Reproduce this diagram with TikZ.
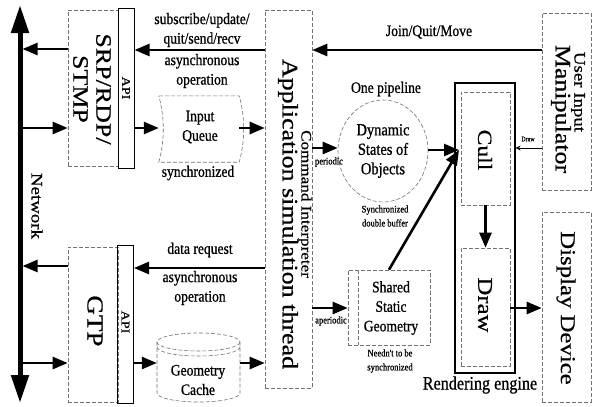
\documentclass[tikz,border=0pt]{standalone}
\usepackage{fontspec}
\setmainfont{Liberation Serif}
\newfontfamily\hf[FakeStretch=0.85,FakeBold=0.8]{Liberation Serif}
\newfontfamily\vf[FakeStretch=1.18,FakeBold=0.6]{Liberation Serif}
\usetikzlibrary{arrows.meta,shapes.geometric}
\tikzset{
  dline/.style={draw=black!55, line width=0.6pt, dash pattern=on 4pt off 2pt},
  dbox/.style={dline, rectangle, inner sep=0pt},
  sbox/.style={draw=black, line width=1pt, rectangle, inner sep=0pt},
  arr/.style={line width=2.6pt, -{Triangle[length=15pt,width=12pt]}},
  netarr/.style={line width=5pt, {Triangle[length=28pt,width=17pt]}-{Triangle[length=28pt,width=17pt]}},
  thinarr/.style={line width=0.6pt, -{Stealth[length=5pt,width=5pt]}},
  txt/.style={inner sep=0pt, align=center, font=\hf\fontsize{16}{19.5}\selectfont},
  small/.style={inner sep=0pt, align=center, font=\hf\fontsize{10}{14}\selectfont},
  vt/.style={rotate=-90, inner sep=0pt, align=center}
}
\begin{document}
\begin{tikzpicture}[x=1pt,y=-1pt]
\useasboundingbox (0,0) rectangle (592,407);

% Network
\coordinate (ntop) at (20,5);
\coordinate (nbot) at (20,403);
\draw[netarr] (ntop) -- (nbot);
\node[vt, font=\vf\fontsize{16}{18}\selectfont] (nett) at (37,206) {Network};

% SRP/RDP/STMP
\node[dbox, minimum width=50pt, minimum height=156pt] (srp) at (93,88) {};
\node[sbox, minimum width=16pt, minimum height=160pt] (api1) at (126,88) {};
\node[vt, font=\vf\fontsize{22}{23}\selectfont] (srpt) at (92,89) {SRP/RDP/\\STMP};
\node[vt, font=\vf\fontsize{12}{14}\selectfont] (api1t) at (126,88) {API};

% GTP
\node[dbox, minimum width=50pt, minimum height=155pt] (gtp) at (93,324.5) {};
\node[sbox, minimum width=16pt, minimum height=158pt] (api2) at (125.5,324.5) {};
\node[vt, font=\vf\fontsize{23}{24}\selectfont] (gtpt) at (95,321) {GTP};
\node[vt, font=\vf\fontsize{12}{14}\selectfont] (api2t) at (125.5,322) {API};

% Application simulation thread
\node[dbox, minimum width=47pt, minimum height=378pt] (app) at (288.5,199) {};
\node[vt, font=\vf\fontsize{22}{24}\selectfont] (appt) at (288,214) {Application simulation thread};
\node[vt, font=\vf\fontsize{14.5}{16}\selectfont] (cmd) at (305,204) {Command Interpreter};

% Input queue
\node[inner sep=0pt, minimum width=80pt, minimum height=66pt] (iq) at (199,129) {};
\draw[dline] (iq.north west) -- (iq.north east)
  .. controls +(6,22) and +(6,-22) .. (iq.south east) -- (iq.south west)
  .. controls +(6,-22) and +(6,22) .. (iq.north west);
\node[txt] (iqt) at (200,127) {Input\\Queue};
\node[txt] (sync) at (198,173) {synchronized};

% Geometry cache
\node[inner sep=0pt, minimum width=83pt, minimum height=69pt] (cache) at (198.5,367.5) {};
\draw[dline] (198.5,342) ellipse [x radius=41.5, y radius=9];
\draw[dline] (157,347) arc[start angle=180, end angle=0, x radius=41.5, y radius=9];
\draw[dline] (157,342) -- (157,393) arc[start angle=180, end angle=0, x radius=41.5, y radius=9] -- (240,342);
\node[txt] (cachet) at (198,380) {Geometry\\Cache};

% Left-side labels
\node[txt] (l1) at (202,30) {subscribe/update/\\quit/send/recv};
\node[txt] (l2) at (202,71) {asynchronous\\operation};
\node[txt] (l3) at (200,250) {data request};
\node[txt] (l4) at (200,288) {asynchronous\\operation};

% Left-side arrows
\draw[arr] (app.west |- 0,50) -- (api1.east |- 0,50);
\draw[arr] (srp.west |- 0,49) -- (22.5,49);
\draw[arr] (22.5,128) -- (srp.west |- 0,128);
\draw[arr] (api1.east |- 0,128) -- (iq.west |- 0,128);
\draw[arr] (iq.east |- 0,128) -- (app.west |- 0,128);
\draw[arr] (app.west |- 0,268) -- (api2.east |- 0,268);
\draw[arr] (gtp.west |- 0,266) -- (22.5,266);
\draw[arr] (22.5,363) -- (gtp.west |- 0,363);
\draw[arr] (api2.east |- 0,363) -- (cache.west |- 0,363);
\draw[arr] (cache.east |- 0,363) -- (app.west |- 0,363);

% User input manipulator
\node[dbox, minimum width=49pt, minimum height=177pt] (user) at (566.5,101.5) {};
\node[vt, font=\vf\fontsize{16}{18}\selectfont] (usert1) at (578,92) {User Input};
\node[vt, font=\vf\fontsize{22}{24}\selectfont] (usert2) at (561,109) {Manipulator};

% Display device
\node[dbox, minimum width=49pt, minimum height=190pt] (disp) at (566.5,307) {};
\node[vt, font=\vf\fontsize{21}{23}\selectfont] (dispt) at (566,308) {Display Device};

% Join arrow
\draw[arr] (user.west |- 0,50) -- (app.east |- 0,50);
\node[txt] (join) at (429,32) {Join/Quit/Move};

% Dynamic states
\node[txt] (onep) at (386,89) {One pipeline};
\node[dline, ellipse, minimum width=90pt, minimum height=102pt, inner sep=0pt] (dyn) at (383,151) {};
\node[txt, font=\hf\fontsize{17}{19.5}\selectfont] (dynt) at (383,151) {Dynamic\\States of\\Objects};
\node[small] (dbuf) at (385,216) {Synchronized\\double buffer};
\draw[arr] (app.east |- 0,148) -- (dyn.west |- 0,148);
\node[small] (per) at (329,162) {periodic};

% Shared static geometry
\node[dbox, minimum width=82pt, minimum height=75pt] (shared) at (389,307.5) {};
\draw[dline] (358,270) -- (358,345);
\node[txt] (sharedt) at (391,308) {Shared\\Static\\Geometry};
\node[small] (need) at (390,361) {Needn't to be\\synchronized};
\draw[arr] (app.east |- 0,308) -- (shared.west |- 0,308);
\node[small] (aper) at (331,321) {aperiodic};

% Rendering engine
\node[sbox, line width=1.1pt, minimum width=60pt, minimum height=290pt] (rend) at (485,228) {};
\node[dbox, minimum width=49pt, minimum height=113pt] (cull) at (485.5,148.5) {};
\node[dbox, minimum width=49pt, minimum height=118pt] (drawb) at (485.5,307) {};
\node[vt, font=\vf\fontsize{20}{22}\selectfont] (cullt) at (485,150) {Cull};
\node[vt, font=\vf\fontsize{21}{23}\selectfont] (drawt) at (485,305) {Draw};
\node[txt, font=\hf\fontsize{19}{21}\selectfont] (rendt) at (480,385) {Rendering engine};
\coordinate (hit) at (459,150);
\draw[arr] (dyn.east |- 0,150) -- (hit);
\draw[arr] (shared.north) -- (hit);
\draw[arr] (cull.south) -- (drawb.north);
\draw[arr] (drawb.east |- 0,308) -- (disp.west |- 0,308);
\draw[thinarr] (user.west |- 0,148) -- (rend.east |- 0,148);
\node[inner sep=0pt, font=\hf\fontsize{7}{8}\selectfont] (drl) at (528,139) {Draw};
\end{tikzpicture}
\end{document}
